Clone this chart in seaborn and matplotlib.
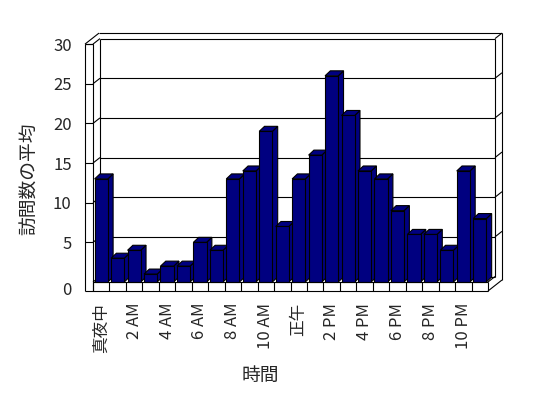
import matplotlib
matplotlib.use("Agg")
import matplotlib.pyplot as plt
import matplotlib.transforms as mtransforms
from matplotlib.patches import Polygon
import numpy as np
import pandas as pd
import seaborn as sns

# ---- data ----
hours = ["真夜中", "1 AM", "2 AM", "3 AM", "4 AM", "5 AM", "6 AM", "7 AM",
         "8 AM", "9 AM", "10 AM", "11 AM", "正午", "1 PM", "2 PM", "3 PM",
         "4 PM", "5 PM", "6 PM", "7 PM", "8 PM", "9 PM", "10 PM", "11 PM"]
visits = [13, 3, 4, 1, 2, 2, 5, 4, 13, 14, 19, 7,
          13, 16, 26, 21, 14, 13, 9, 6, 6, 4, 14, 8]
tick_labels = ["真夜中", "2 AM", "4 AM", "6 AM", "8 AM", "10 AM",
               "正午", "2 PM", "4 PM", "6 PM", "8 PM", "10 PM"]
y_ticks = [0, 5, 10, 15, 20, 25, 30]
x_title = "時間"
y_title = "訪問数の平均"

sns.set_style("white")
plt.rcParams["font.family"] = ["Noto Sans CJK JP", "DejaVu Sans"]

W, H = 548, 398
fig = plt.figure(figsize=(W / 100, H / 100), dpi=100)
fig.patch.set_facecolor("white")

# front plane of the plot box in pixels
x_left, x_right = 93.0, 488.0
y_zero, y_top = 282.0, 44.1
ax = fig.add_axes([x_left / W, (H - y_zero) / H,
                   (x_right - x_left) / W, (y_zero - y_top) / H])

df = pd.DataFrame({x_title: hours, y_title: visits})
sns.barplot(data=df, x=x_title, y=y_title, order=hours, color="#000080",
            saturation=1, width=0.8, edgecolor="black", linewidth=0.8, ax=ax)

n = len(hours)
ax.set_xlim(-0.5, n - 0.5)
ax.set_ylim(0, 30)

px_cat = (x_right - x_left) / n          # pixels per category
px_val = (y_zero - y_top) / 30.0         # pixels per value unit

# depth vectors (data units)
wdx, wdy = 7.0 / px_cat, 5.5 / px_val    # wall depth step
bdx, bdy = 5.3 / px_cat, 5.0 / px_val    # bar depth
strip = 8.0 / px_cat                      # left wall thickness
floor = 9.0 / px_val                      # floor thickness

lw = 0.8
kw = dict(color="black", lw=lw, clip_on=False, solid_capstyle="butt")

def line(xs, ys, z=1):
    ax.plot(xs, ys, zorder=z, **kw)

xl, xr = -0.5, n - 0.5
xo = xl - strip
vmax = 30

# back wall (depth level 1)
for v in y_ticks:
    line([xl + wdx, xr + wdx], [v + wdy, v + wdy])
line([xl + wdx, xl + wdx], [wdy, vmax + wdy])
line([xr + wdx, xr + wdx], [wdy, vmax + wdy])
# left wall inner face diagonals
for v in y_ticks:
    line([xl, xl + wdx], [v, v + wdy])
# right end face of back wall diagonals
for v in y_ticks[1:]:
    line([xr + wdx, xr + 2 * wdx], [v + wdy, v + 2 * wdy])
# outer back edges (depth level 2)
line([xo + 2 * wdx, xr + 2 * wdx], [vmax + 2 * wdy] * 2)
line([xr + 2 * wdx] * 2, [-floor + 2 * wdy, vmax + 2 * wdy])
line([xo, xo + 2 * wdx], [vmax, vmax + 2 * wdy])
# front-left strip
line([xo, xo], [-floor, vmax], z=6)
line([xl, xl], [-floor, vmax], z=6)
line([xo, xl], [vmax, vmax], z=6)
for v in y_ticks[1:]:
    line([xo, xl], [v, v], z=6)
# floor front strip
line([xl, xr], [0, 0], z=6)
line([xo, xr], [-floor, -floor], z=6)
for k in range(n + 1):
    line([xl + k, xl + k], [-floor, 0], z=6)
line([xr, xr + 2 * wdx], [-floor, -floor + 2 * wdy], z=6)
line([xr, xr + wdx], [0, wdy], z=2)

# 3D bars: side + top faces derived from seaborn's bar patches
navy = "#000080"
for i, p in enumerate(list(ax.patches)):
    x0, w, h = p.get_x(), p.get_width(), p.get_height()
    z = 3 + i * 0.01
    side = Polygon([(x0 + w, 0), (x0 + w + bdx, bdy), (x0 + w + bdx, h + bdy),
                    (x0 + w, h)], closed=True, facecolor=navy,
                   edgecolor="black", lw=lw, zorder=z, clip_on=False)
    top = Polygon([(x0, h), (x0 + w, h), (x0 + w + bdx, h + bdy),
                   (x0 + bdx, h + bdy)], closed=True, facecolor=navy,
                  edgecolor="black", lw=lw, zorder=z, clip_on=False)
    ax.add_patch(side)
    ax.add_patch(top)
    p.set_zorder(z + 0.005)
    p.set_clip_on(False)

for s in ax.spines.values():
    s.set_visible(False)
ax.set_facecolor("none")
ax.set_yticks(y_ticks)
ax.set_yticklabels([str(v) for v in y_ticks], fontsize=12)
ax.set_xticks(range(0, n, 2))
ax.set_xticklabels(tick_labels, rotation=90, fontsize=12)
ax.tick_params(axis="y", length=0, pad=15.3)
ax.tick_params(axis="x", length=0, pad=15)
ax.set_xlabel("")
ax.set_ylabel("")

# the "0" label sits lower, level with the floor slab
lbl0 = ax.get_yticklabels()[0]
lbl0.set_transform(lbl0.get_transform() +
                   mtransforms.ScaledTranslation(0, -6.5 / 100, fig.dpi_scale_trans))

fig.text(260 / W, 1 - 375 / H, x_title, ha="center", va="center", fontsize=13.5)
fig.text(30 / W, 1 - 178.5 / H, y_title, ha="center", va="center",
         rotation=90, fontsize=13.5)

fig.savefig("out.png", dpi=100, facecolor="white")
